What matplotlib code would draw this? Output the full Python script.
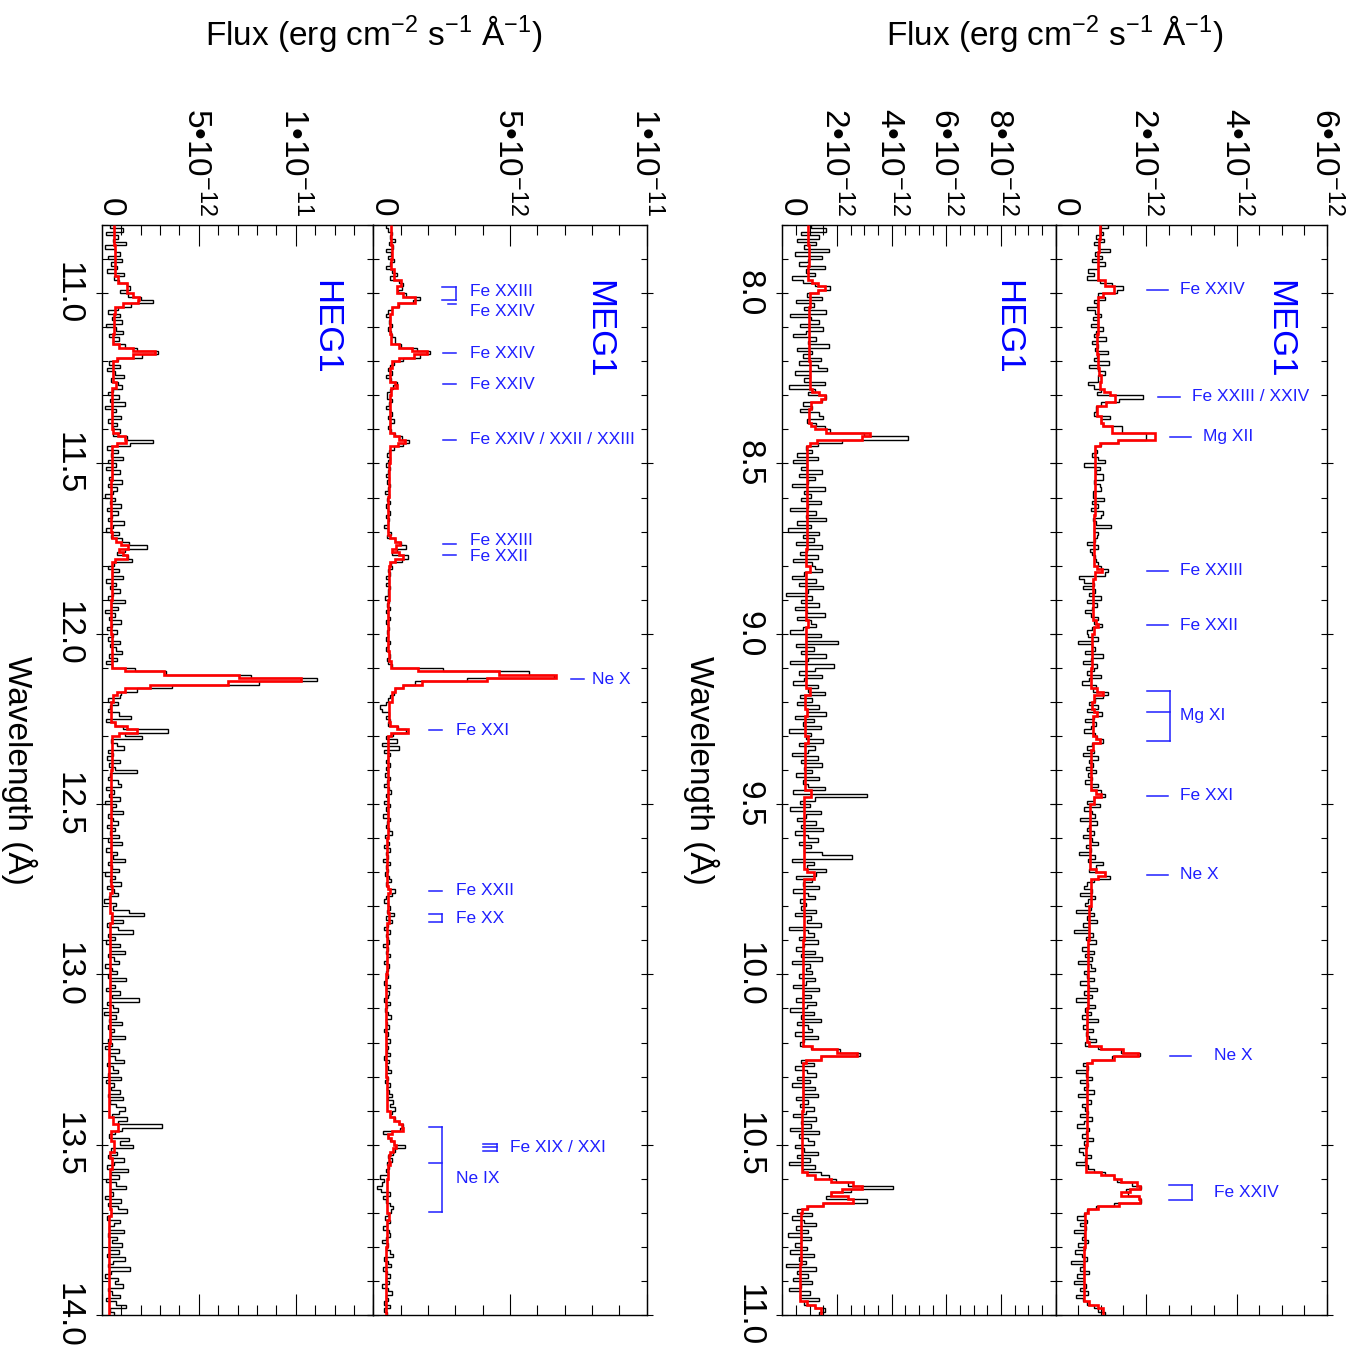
import numpy as np
import matplotlib
matplotlib.use("Agg")
import matplotlib.pyplot as plt
from matplotlib.ticker import MultipleLocator
from matplotlib.transforms import blended_transform_factory

plt.rcParams['font.family'] = ['Liberation Sans', 'DejaVu Sans']
plt.rcParams['mathtext.fontset'] = 'custom'
plt.rcParams['mathtext.rm'] = 'Liberation Sans'
plt.rcParams['mathtext.it'] = 'Liberation Sans:italic'
plt.rcParams['mathtext.default'] = 'regular'
plt.rcParams['axes.linewidth'] = 1.0

# ---------------------------------------------------------------------------
# Spectra: fluxes in units of 1e-12 erg cm^-2 s^-1 A^-1, 0.01 A bins
# ---------------------------------------------------------------------------
BIN = 0.01
UNIT = 1e-12

# MEG1, 7.80 - 11.00 A
meg_short_start = 7.80
meg_short_flux = [
    1.15, 0.98, 1.05, 0.90, 1.08, 0.85, 0.95, 1.20, 0.88, 1.02, 0.80, 1.10, 0.95, 0.72, 0.85, 0.70, 0.98, 1.25, 1.50, 1.35,
    0.95, 1.10, 0.85, 0.92, 0.70, 0.88, 1.00, 0.82, 0.95, 0.78, 1.05, 0.90, 0.85, 1.12, 0.80, 0.95, 0.88, 1.15, 0.92, 0.85,
    1.18, 0.75, 0.95, 1.09, 0.94, 0.94, 0.72, 0.85, 1.00, 0.92, 1.94, 1.40, 1.00, 0.90, 0.90, 0.85, 1.20, 1.00, 1.05, 1.46,
    1.46, 2.00, 2.00, 1.38, 1.00, 0.87, 0.92, 0.80, 0.95, 1.09, 0.64, 0.98, 0.90, 1.05, 1.05, 0.85, 0.98, 1.00, 0.83, 0.83,
    1.08, 0.80, 0.95, 0.78, 1.05, 1.00, 0.82, 0.90, 1.22, 0.85, 0.95, 0.92, 0.88, 0.70, 0.95, 0.76, 0.80, 0.88, 0.90, 0.95,
    1.00, 1.16, 1.10, 0.53, 0.64, 0.85, 0.60, 0.88, 0.75, 1.00, 0.70, 0.92, 0.80, 0.65, 0.78, 0.95, 0.85, 1.02, 0.80, 0.70,
    0.72, 0.95, 0.50, 0.80, 0.88, 0.65, 1.05, 0.78, 0.60, 0.92, 0.85, 0.70, 1.00, 0.75, 0.58, 0.90, 0.82, 1.15, 1.05, 0.88,
    0.75, 0.95, 0.70, 1.02, 0.85, 0.65, 0.90, 0.78, 0.62, 0.88, 0.92, 1.05, 0.80, 0.70, 0.85, 0.60, 0.95, 0.75, 0.82, 0.68,
    0.90, 0.72, 0.80, 0.65, 0.95, 0.78, 1.00, 1.10, 0.85, 0.70, 0.98, 0.62, 0.80, 0.88, 0.55, 0.92, 0.75, 0.70, 0.85, 0.60,
    0.80, 0.95, 0.68, 0.78, 0.52, 0.88, 0.72, 1.05, 0.90, 0.75, 1.10, 1.20, 0.85, 0.70, 0.62, 0.80, 0.55, 0.88, 0.72, 0.65,
    0.78, 0.45, 0.85, 0.70, 0.92, 0.60, 0.75, 0.40, 0.82, 0.68, 0.90, 0.72, 0.58, 0.85, 0.65, 0.80, 0.50, 0.78, 0.88, 0.62,
    0.70, 0.85, 0.55, 0.75, 0.92, 0.62, 0.80, 0.45, 0.72, 0.88, 0.65, 0.78, 0.58, 0.95, 0.70, 0.60, 0.82, 0.68, 0.75, 0.90,
    0.65, 0.95, 1.45, 1.87, 1.25, 0.80, 0.60, 0.72, 0.45, 0.68, 0.80, 0.55, 0.72, 0.62, 0.85, 0.50, 0.70, 0.78, 0.58, 0.66,
    0.72, 0.55, 0.80, 0.62, 0.48, 0.75, 0.68, 0.58, 0.82, 0.64, 0.70, 0.52, 0.60, 0.78, 0.66, 0.45, 0.72, 0.85, 1.10, 1.30,
    1.35, 1.70, 1.90, 1.55, 1.60, 1.85, 1.88, 1.30, 0.90, 0.70, 0.62, 0.48, 0.70, 0.55, 0.68, 0.40, 0.62, 0.58, 0.72, 0.50,
    0.65, 0.42, 0.58, 0.70, 0.35, 0.60, 0.55, 0.75, 0.48, 0.62, 0.40, 0.68, 0.55, 0.72, 0.45, 0.60, 0.70, 0.85, 0.95, 1.10,
]

# HEG1, 7.80 - 11.00 A
heg_short_start = 7.80
heg_short_flux = [
    1.05, 1.60, 0.70, 1.35, 0.55, 1.25, 0.80, 1.70, 0.45, 1.45, 0.95, 0.60, 1.55, 0.85, 1.20, 0.35, 0.75, 1.20, 1.75, 1.30,
    0.90, 1.45, 0.50, 1.15, 0.80, 1.60, 0.30, 1.05, 1.35, 0.65, 1.50, 0.85, 0.40, 1.25, 0.95, 1.70, 0.55, 1.10, 0.75, 1.40,
    0.60, 1.30, 1.65, 0.45, 1.00, 0.80, 1.55, 0.25, 1.20, 0.95, 1.60, 1.45, 0.75, 1.10, 0.65, 1.35, 1.50, 0.90, 1.25, 1.55,
    1.75, 3.00, 4.59, 2.20, 1.30, 0.85, 1.10, 0.55, 1.30, 0.40, 0.90, 0.70, 1.45, 0.60, 1.20, 0.95, 0.35, 1.55, 0.80, 1.05,
    0.70, 1.40, 0.95, 0.30, 1.25, 0.85, 1.60, 0.55, 1.05, 0.20, 1.35, 0.75, 1.15, 0.50, 1.45, 0.90, 0.65, 1.30, 0.40, 1.10,
    1.20, 1.45, 0.80, 0.35, 1.25, 0.60, 1.50, 0.95, 0.15, 1.10, 0.70, 1.35, 0.45, 0.90, 1.55, 0.55, 1.05, 1.25, 0.75, 0.30,
    1.40, 0.85, 2.05, 0.50, 1.15, 0.70, 1.60, 0.95, 0.30, 1.90, 1.20, 0.60, 1.45, 0.80, 0.40, 1.30, 0.95, 1.55, 0.65, 1.10,
    0.55, 1.35, 0.90, 1.60, 0.45, 1.15, 0.75, 1.40, 0.25, 1.05, 0.85, 1.50, 0.60, 1.20, 0.95, 0.35, 1.30, 0.70, 1.45, 0.80,
    1.10, 0.50, 1.35, 0.75, 0.95, 1.55, 0.40, 3.10, 1.20, 0.65, 1.00, 0.30, 1.40, 0.85, 0.55, 1.25, 0.70, 1.50, 0.45, 0.95,
    1.30, 0.60, 1.05, 0.80, 1.45, 2.55, 0.35, 1.15, 0.90, 1.60, 1.25, 0.50, 1.10, 0.75, 1.35, 0.40, 0.95, 1.20, 0.65, 0.85,
    0.70, 1.25, 0.45, 1.05, 0.90, 1.40, 0.25, 0.95, 1.15, 0.60, 1.30, 0.80, 0.50, 1.20, 0.70, 1.45, 0.35, 1.00, 0.85, 1.10,
    0.60, 1.20, 0.85, 0.40, 1.35, 0.75, 1.05, 0.50, 1.25, 0.90, 0.30, 1.15, 0.70, 1.40, 0.55, 0.95, 1.10, 0.45, 1.30, 0.80,
    0.65, 1.05, 2.10, 2.85, 1.40, 0.70, 1.15, 0.45, 0.90, 1.25, 0.55, 1.00, 0.35, 1.20, 0.75, 1.30, 0.50, 0.95, 0.65, 1.15,
    0.85, 0.40, 1.25, 0.70, 1.05, 0.30, 1.35, 0.60, 0.95, 1.15, 0.45, 0.80, 1.30, 0.55, 1.00, 0.25, 1.20, 0.75, 1.40, 1.70,
    1.95, 2.40, 4.05, 2.50, 1.80, 1.60, 3.10, 1.50, 0.95, 0.55, 1.10, 0.35, 0.80, 1.25, 0.50, 0.95, 0.20, 1.05, 0.70, 0.45,
    0.90, 0.30, 1.15, 0.60, 0.85, 0.15, 1.25, 0.55, 0.95, 0.40, 1.10, 0.70, 0.25, 1.00, 0.65, 1.35, 0.80, 1.20, 1.55, 1.35,
]

# MEG1, 10.80 - 14.00 A
meg_long_start = 10.80
meg_long_flux = [
    0.45, 0.55, 0.70, 0.62, 0.80, 0.58, 0.72, 0.45, 0.65, 0.52, 0.75, 0.60, 0.48, 0.70, 0.85, 0.62, 0.95, 1.08, 1.06, 0.90,
    1.20, 1.70, 1.45, 0.95, 0.70, 0.55, 0.45, 0.62, 0.58, 0.70, 0.55, 0.65, 0.68, 0.80, 0.78, 1.00, 1.60, 2.07, 1.70, 1.10,
    0.75, 0.62, 0.55, 0.70, 0.48, 0.65, 0.88, 0.72, 0.60, 0.50, 0.50, 0.68, 0.58, 0.45, 0.62, 0.70, 0.55, 0.75, 0.60, 0.52,
    0.65, 0.80, 1.05, 1.30, 1.10, 0.75, 0.58, 0.50, 0.62, 0.55, 0.48, 0.60, 0.52, 0.45, 0.58, 0.50, 0.62, 0.55, 0.42, 0.58,
    0.50, 0.60, 0.45, 0.55, 0.62, 0.48, 0.58, 0.52, 0.40, 0.55, 0.65, 0.50, 0.78, 1.00, 1.20, 0.85, 0.70, 1.27, 1.05, 0.65,
    0.70, 0.55, 0.62, 0.48, 0.58, 0.45, 0.60, 0.52, 0.55, 0.42, 0.58, 0.50, 0.62, 0.47, 0.55, 0.60, 0.45, 0.52, 0.58, 0.50,
    0.55, 0.48, 0.60, 0.52, 0.45, 0.58, 0.62, 0.50, 0.55, 0.68, 2.56, 5.70, 6.60, 3.41, 1.52, 1.10, 0.80, 0.75, 0.60, 0.52,
    0.48, 0.25, 0.30, 0.58, 0.45, 0.62, 0.55, 0.90, 1.20, 0.72, 0.45, 0.85, 0.30, 0.95, 0.40, 0.60, 0.52, 0.45, 0.62, 0.48,
    0.55, 0.42, 0.60, 0.50, 0.38, 0.58, 0.65, 0.45, 0.52, 0.40, 0.60, 0.48, 0.55, 0.35, 0.62, 0.50, 0.45, 0.58, 0.70, 0.42,
    0.50, 0.58, 0.40, 0.62, 0.45, 0.55, 0.35, 0.60, 0.48, 0.52, 0.42, 0.58, 0.65, 0.45, 0.55, 0.80, 0.70, 0.45, 0.38, 0.55,
    0.62, 0.50, 0.75, 0.45, 0.68, 0.55, 0.40, 0.60, 0.48, 0.52, 0.58, 0.35, 0.55, 0.45, 0.62, 0.50, 0.40, 0.58, 0.52, 0.45,
    0.55, 0.48, 0.40, 0.62, 0.45, 0.58, 0.52, 0.38, 0.60, 0.50, 0.42, 0.55, 0.65, 0.45, 0.50, 0.58, 0.40, 0.52, 0.48, 0.60,
    0.45, 0.55, 0.50, 0.62, 0.40, 0.58, 0.48, 0.52, 0.65, 0.45, 0.55, 0.42, 0.60, 0.50, 0.58, 0.68, 0.55, 0.72, 0.62, 0.80,
    0.70, 0.62, 0.80, 0.95, 1.10, 0.98, 0.37, 0.55, 0.62, 0.75, 1.15, 0.80, 0.72, 0.55, 0.70, 0.50, 0.58, 0.45, 0.52, 0.25,
    0.40, 0.30, 0.15, 0.28, 0.62, 0.35, 0.48, 0.60, 0.72, 0.65, 0.55, 0.42, 0.60, 0.50, 0.35, 0.58, 0.62, 0.45, 0.30, 0.55,
    0.48, 0.60, 0.72, 0.40, 0.55, 0.65, 0.35, 0.50, 0.62, 0.45, 0.58, 0.30, 0.52, 0.68, 0.45, 0.55, 0.40, 0.60, 0.38, 0.50,
]

# HEG1, 10.80 - 14.00 A
heg_long_start = 10.80
heg_long_flux = [
    0.45, 1.10, 0.20, 0.85, 0.60, 1.25, 0.15, 0.70, 0.95, 0.35, 1.05, 0.50, 0.80, 0.25, 1.15, 0.65, 0.90, 1.30, 1.45, 0.95,
    1.35, 2.00, 2.65, 1.50, 0.85, 0.30, 0.95, 0.55, 1.05, 0.20, 0.75, 1.10, 0.40, 0.90, 0.60, 1.20, 1.80, 2.90, 2.10, 0.85,
    0.40, 0.95, 0.25, 0.70, 1.15, 0.50, 0.85, 1.05, 0.60, 0.30, 0.90, 0.45, 1.20, 0.15, 0.75, 0.55, 1.00, 0.35, 0.80, 0.60,
    0.95, 0.60, 1.30, 2.66, 1.45, 0.25, 0.85, 0.50, 1.10, 0.35, 0.75, 0.20, 0.95, 0.55, 0.40, 1.05, 0.30, 0.80, 0.60, 0.15,
    0.70, 0.45, 1.00, 0.25, 0.85, 0.55, 0.35, 1.15, 0.60, 0.20, 0.90, 0.50, 1.05, 1.40, 2.35, 1.20, 0.80, 1.35, 1.55, 0.65,
    0.35, 0.90, 0.55, 1.10, 0.20, 0.75, 0.45, 0.95, 0.60, 0.30, 1.20, 0.50, 0.85, 0.15, 0.70, 0.40, 1.00, 0.55, 0.25, 0.80,
    0.60, 0.30, 0.95, 0.45, 0.75, 1.05, 0.40, 0.80, 0.20, 0.55, 1.70, 3.30, 7.70, 11.10, 8.10, 3.60, 1.80, 1.00, 0.95, 0.35,
    0.85, 0.45, 0.30, 0.90, 1.50, 0.20, 0.70, 1.10, 3.43, 1.20, 2.07, 0.50, 0.80, 1.15, 0.35, 0.60, 0.25, 0.95, 0.40, 0.70,
    1.80, 0.45, 0.30, 0.85, 1.00, 0.20, 0.65, 0.40, 0.95, 0.15, 0.75, 0.55, 1.10, 0.30, 0.60, 0.85, 0.25, 0.70, 0.45, 0.90,
    0.35, 1.05, 0.50, 0.20, 0.80, 0.60, 1.20, 0.30, 0.55, 0.90, 0.15, 0.70, 0.45, 1.00, 0.25, 0.65, 0.85, 0.40, 0.10, 0.75,
    0.60, 1.40, 2.20, 0.50, 1.10, 0.25, 0.85, 1.60, 0.35, 0.70, 0.20, 0.95, 0.45, 1.20, 0.30, 0.65, 0.90, 0.15, 0.55, 0.80,
    0.30, 1.25, 0.45, 0.70, 0.20, 0.95, 0.55, 1.90, 0.25, 0.60, 0.85, 0.10, 0.75, 0.40, 1.05, 0.30, 0.65, 0.50, 1.20, 0.35,
    0.55, 0.15, 0.90, 0.40, 0.70, 1.15, 0.25, 0.60, 0.85, 0.35, 1.00, 0.20, 0.65, 0.50, 0.95, 0.30, 1.10, 0.45, 0.75, 1.20,
    0.90, 0.55, 1.30, 0.85, 3.10, 1.05, 0.70, 0.40, 1.40, 0.95, 1.60, 0.50, 0.80, 0.30, 1.15, 0.65, 0.25, 1.35, 0.50, 0.90,
    0.20, 0.75, 1.25, 0.45, 0.60, 0.15, 1.00, 0.35, 0.85, 1.30, 0.50, 0.25, 0.95, 0.65, 0.40, 1.15, 0.30, 0.80, 0.55, 1.05,
    0.40, 0.90, 0.25, 1.20, 0.60, 0.35, 1.45, 0.50, 0.15, 0.85, 0.70, 1.10, 0.30, 0.55, 0.95, 0.20, 0.75, 1.25, 0.45, 0.65,
]

# Best-fit models: (step start wavelength, flux) pairs, each step lasting to the next start
meg_short_model = [
    (7.80, 0.98), (7.84, 0.96), (7.88, 0.95), (7.92, 0.93), (7.96, 1.10), (7.98, 1.30), (8.00, 1.05),
    (8.01, 0.95), (8.06, 0.93), (8.12, 0.91), (8.18, 0.93), (8.22, 0.96), (8.24, 1.00), (8.26, 0.98),
    (8.28, 1.08), (8.29, 1.20), (8.30, 1.31), (8.32, 1.12), (8.33, 0.92), (8.36, 1.00), (8.38, 1.05),
    (8.39, 1.24), (8.41, 2.20), (8.43, 1.38), (8.44, 0.98), (8.45, 0.88), (8.55, 0.87), (8.65, 0.85),
    (8.75, 0.84), (8.80, 0.92), (8.81, 1.02), (8.82, 0.88), (8.84, 0.82), (8.96, 0.90), (8.97, 0.95),
    (8.98, 0.84), (9.00, 0.80), (9.10, 0.78), (9.16, 0.92), (9.17, 1.04), (9.18, 0.85), (9.20, 0.80),
    (9.22, 0.86), (9.23, 0.92), (9.24, 0.82), (9.30, 0.90), (9.31, 0.98), (9.32, 0.82), (9.34, 0.78),
    (9.46, 0.90), (9.47, 1.00), (9.48, 0.84), (9.50, 0.77), (9.60, 0.76), (9.69, 0.90), (9.70, 1.10),
    (9.71, 0.95), (9.72, 0.78), (9.80, 0.73), (9.90, 0.72), (10.00, 0.71), (10.10, 0.70), (10.20, 0.75),
    (10.21, 1.00), (10.22, 1.50), (10.23, 1.82), (10.24, 1.30), (10.25, 0.80), (10.26, 0.70), (10.40, 0.69),
    (10.50, 0.68), (10.58, 1.00), (10.59, 1.30), (10.60, 1.45), (10.61, 1.80), (10.62, 1.87), (10.63, 1.65),
    (10.64, 1.45), (10.65, 1.85), (10.66, 1.87), (10.67, 1.40), (10.68, 0.95), (10.69, 0.72), (10.70, 0.65),
    (10.80, 0.63), (10.90, 0.62), (10.96, 0.75), (10.97, 0.95), (10.98, 1.04),
]

heg_short_model = [
    (7.80, 0.95), (7.86, 0.97), (7.92, 0.95), (7.96, 1.10), (7.97, 1.30), (7.98, 1.56), (7.99, 1.30),
    (8.00, 1.00), (8.04, 0.97), (8.12, 0.98), (8.20, 1.00), (8.28, 1.10), (8.29, 1.35), (8.30, 1.56),
    (8.31, 1.40), (8.32, 1.05), (8.34, 0.98), (8.38, 1.05), (8.39, 1.20), (8.40, 1.60), (8.41, 3.21),
    (8.42, 2.90), (8.43, 1.26), (8.44, 1.00), (8.45, 0.92), (8.60, 0.90), (8.75, 0.88), (8.80, 1.00),
    (8.82, 0.86), (8.96, 0.95), (8.98, 0.85), (9.16, 1.00), (9.18, 0.84), (9.22, 0.92), (9.24, 0.83),
    (9.30, 0.95), (9.32, 0.82), (9.46, 1.05), (9.48, 0.80), (9.69, 0.90), (9.70, 1.15), (9.72, 0.78),
    (9.90, 0.76), (10.10, 0.74), (10.21, 1.10), (10.22, 2.00), (10.23, 2.73), (10.24, 1.40), (10.25, 0.85),
    (10.26, 0.74), (10.40, 0.72), (10.58, 0.90), (10.59, 1.20), (10.60, 1.80), (10.61, 2.60), (10.62, 2.90),
    (10.63, 2.20), (10.64, 1.80), (10.65, 2.40), (10.66, 2.60), (10.67, 1.50), (10.68, 0.90), (10.69, 0.72),
    (10.70, 0.68), (10.85, 0.66), (10.96, 0.90), (10.97, 1.20), (10.98, 1.40),
]

meg_long_model = [
    (10.80, 0.66), (10.86, 0.70), (10.90, 0.66), (10.93, 0.75), (10.96, 1.00), (10.98, 0.87), (11.00, 1.10),
    (11.01, 1.52), (11.03, 0.90), (11.04, 0.67), (11.06, 0.60), (11.12, 0.64), (11.15, 0.95), (11.16, 1.40),
    (11.17, 1.95), (11.18, 1.50), (11.19, 0.95), (11.20, 0.70), (11.22, 0.62), (11.26, 0.80), (11.27, 0.87),
    (11.28, 0.64), (11.30, 0.60), (11.41, 0.75), (11.42, 0.95), (11.43, 1.15), (11.44, 0.90), (11.45, 0.62),
    (11.50, 0.56), (11.60, 0.54), (11.71, 0.62), (11.72, 0.80), (11.73, 0.98), (11.74, 0.82), (11.75, 0.70),
    (11.76, 0.95), (11.77, 1.10), (11.78, 0.80), (11.79, 0.62), (11.80, 0.56), (11.90, 0.55), (12.05, 0.58),
    (12.08, 0.65), (12.10, 1.65), (12.11, 4.60), (12.12, 6.70), (12.13, 4.15), (12.14, 1.77), (12.15, 1.10),
    (12.16, 0.80), (12.17, 0.68), (12.20, 0.58), (12.26, 0.62), (12.27, 0.85), (12.28, 1.28), (12.29, 0.65),
    (12.30, 0.55), (12.40, 0.52), (12.60, 0.50), (12.74, 0.55), (12.75, 0.62), (12.76, 0.52), (12.82, 0.56),
    (12.85, 0.50), (13.00, 0.48), (13.20, 0.47), (13.30, 0.50), (13.40, 0.60), (13.42, 0.75), (13.43, 0.95),
    (13.44, 1.04), (13.45, 1.10), (13.46, 0.67), (13.47, 0.55), (13.48, 0.65), (13.49, 0.77), (13.50, 0.83),
    (13.51, 0.72), (13.52, 0.60), (13.53, 0.56), (13.55, 0.62), (13.56, 0.55), (13.60, 0.50), (13.70, 0.56),
    (13.72, 0.50), (13.80, 0.48), (13.90, 0.46),
]

heg_long_model = [
    (10.80, 0.62), (10.86, 0.70), (10.92, 0.66), (10.95, 0.85), (10.97, 1.29), (11.00, 1.60), (11.01, 1.90),
    (11.02, 1.85), (11.03, 1.10), (11.04, 0.68), (11.06, 0.62), (11.12, 0.60), (11.15, 0.90), (11.16, 1.60),
    (11.17, 2.77), (11.18, 1.60), (11.19, 0.80), (11.20, 0.58), (11.26, 0.72), (11.28, 0.55), (11.40, 0.60),
    (11.41, 0.85), (11.42, 1.20), (11.43, 1.25), (11.44, 0.80), (11.45, 0.55), (11.55, 0.50), (11.70, 0.52),
    (11.72, 0.75), (11.73, 1.00), (11.74, 1.37), (11.75, 0.90), (11.76, 1.10), (11.77, 1.30), (11.78, 0.70),
    (11.79, 0.52), (11.90, 0.48), (12.00, 0.52), (12.08, 0.55), (12.10, 1.20), (12.11, 3.20), (12.12, 7.07),
    (12.13, 10.26), (12.14, 6.50), (12.15, 2.50), (12.16, 1.20), (12.17, 0.80), (12.18, 0.60), (12.20, 0.50),
    (12.26, 0.70), (12.27, 1.30), (12.28, 1.80), (12.29, 0.90), (12.30, 0.55), (12.40, 0.48), (12.60, 0.46),
    (12.74, 0.55), (12.76, 0.45), (12.82, 0.52), (12.85, 0.44), (13.00, 0.42), (13.20, 0.40), (13.42, 0.60),
    (13.44, 0.85), (13.46, 0.50), (13.49, 0.62), (13.52, 0.45), (13.54, 0.55), (13.57, 0.42), (13.69, 0.50),
    (13.71, 0.40), (13.85, 0.38),
]

# Line identifications: (label, line wavelengths, label wavelength)
meg_short_ids = [
    ("Fe XXIV", [7.99], 7.99),
    ("Fe XXIII / XXIV", [8.304], 8.304),
    ("Mg XII", [8.421], 8.421),
    ("Fe XXIII", [8.815], 8.815),
    ("Fe XXII", [8.975], 8.975),
    ("Mg XI", [9.169, 9.231, 9.314], 9.239),
    ("Fe XXI", [9.475], 9.475),
    ("Ne X", [9.708], 9.708),
    ("Ne X", [10.239], 10.239),
    ("Fe XXIV", [10.619, 10.663], 10.641),
]
meg_long_ids = [
    ("Fe XXIII", [10.981, 11.019], 10.994),
    ("Fe XXIV", [11.031], 11.055),
    ("Fe XXIV", [11.176], 11.176),
    ("Fe XXIV", [11.268], 11.268),
    ("Fe XXIV / XXII / XXIII", [11.430], 11.430),
    ("Fe XXIII", [11.736], 11.726),
    ("Fe XXII", [11.770], 11.774),
    ("Ne X", [12.134], 12.134),
    ("Fe XXI", [12.284], 12.284),
    ("Fe XXII", [12.754], 12.754),
    ("Fe XX", [12.824, 12.846], 12.835),
    ("Fe XIX / XXI", [13.497, 13.507, 13.518], 13.507),
    ("Ne IX", [13.447, 13.553, 13.699], 13.598),
]
# horizontal placement of each identification (axes fraction: line start, line end, text start)
meg_short_id_x = [
    (0.336, 0.413, 0.458), (0.376, 0.458, 0.502), (0.421, 0.498, 0.542), (0.336, 0.413, 0.458),
    (0.336, 0.413, 0.458), (0.336, 0.421, 0.458), (0.336, 0.413, 0.458), (0.336, 0.413, 0.458),
    (0.421, 0.498, 0.583), (0.417, 0.502, 0.583),
]
meg_long_id_x = [
    (0.250, 0.302, 0.354), (0.275, 0.302, 0.354), (0.255, 0.302, 0.354), (0.255, 0.302, 0.354),
    (0.255, 0.302, 0.354), (0.255, 0.302, 0.354), (0.255, 0.302, 0.354), (0.723, 0.770, 0.800),
    (0.204, 0.252, 0.302), (0.204, 0.252, 0.302), (0.204, 0.252, 0.302), (0.401, 0.452, 0.500),
    (0.204, 0.252, 0.302),
]

W, H = 1346, 1366
TOP, BOTTOM = 225, 1315
BLUE = '#1f1fff'
FS = 24

fig = plt.figure(figsize=(W / 100, H / 100), dpi=100)


def panel_axes(x0, x1):
    return fig.add_axes([x0 / W, 1 - BOTTOM / H, (x1 - x0) / W, (BOTTOM - TOP) / H])


def flux_label(v):
    if v == 0:
        return "0"
    e = int(np.floor(np.log10(v) + 1e-9))
    m = v / 10.0 ** e
    return f"{m:g}•10$^{{{e}}}$"


def draw_panel(ax, start, flux, model, stop, xmax, major, minor, flux_ticks, name, wl_labels):
    edges = start + BIN * np.arange(len(flux) + 1)
    ax.stairs(np.asarray(flux) * UNIT, edges, orientation='horizontal', baseline=None,
              color='black', lw=1.0, zorder=2)
    mw = np.array([p[0] for p in model] + [stop])
    mf = np.array([p[1] for p in model]) * UNIT
    ax.stairs(mf, mw, orientation='horizontal', baseline=None, color='red', lw=1.9, zorder=3)

    ax.set_xlim(0, xmax)
    ax.set_ylim(stop, start)
    ax.xaxis.set_major_locator(MultipleLocator(major))
    ax.xaxis.set_minor_locator(MultipleLocator(minor))
    ax.yaxis.set_major_locator(MultipleLocator(0.5))
    ax.yaxis.set_minor_locator(MultipleLocator(0.1))
    ax.tick_params(axis='x', which='major', direction='in', length=15, width=0.8,
                   top=True, bottom=True, labelbottom=False, labeltop=False)
    ax.tick_params(axis='x', which='minor', direction='in', length=7.5, width=0.8,
                   top=True, bottom=True)
    ax.tick_params(axis='y', which='major', direction='inout', length=8, width=0.8,
                   left=True, right=True, labelleft=False, labelright=False)
    ax.tick_params(axis='y', which='minor', direction='in', length=4, width=0.8,
                   left=True, right=True)

    trx = blended_transform_factory(ax.transData, ax.transAxes)
    for v in flux_ticks:
        dx = 0 if v == 0 else -12
        ax.annotate(flux_label(v), xy=(v, 1), xycoords=trx, xytext=(dx, 9),
                    textcoords='offset pixels', rotation=270, rotation_mode='anchor',
                    ha='right', va='baseline', fontsize=FS, annotation_clip=False)

    if wl_labels:
        trw = blended_transform_factory(ax.transAxes, ax.transData)
        for v in np.arange(start + 0.2, stop + 0.01, 0.5):
            ax.annotate(f"{v:.1f}", xy=(0, v), xycoords=trw, xytext=(-42, 0),
                        textcoords='offset pixels', rotation=270, rotation_mode='anchor',
                        ha='center', va='baseline', fontsize=FS, annotation_clip=False)

    ax.text(0.79, 0.9495, name, transform=ax.transAxes, rotation=270, rotation_mode='anchor',
            ha='left', va='baseline', fontsize=25, color='#0000ff')


def draw_ids(ax, ids, xs):
    tr = blended_transform_factory(ax.transAxes, ax.transData)
    for (label, waves, text_wave), (xa, xb, xt) in zip(ids, xs):
        for w in waves:
            ax.plot([xa, xb], [w, w], transform=tr, color=BLUE, lw=1.1, zorder=4)
        if len(waves) > 1:
            ax.plot([xb, xb], [min(waves), max(waves)], transform=tr, color=BLUE, lw=1.1, zorder=4)
        ax.text(xt, text_wave, label, transform=tr, ha='left', va='center',
                fontsize=12.5, color=BLUE, zorder=4)


ax_heg_l = panel_axes(101.7, 373.3)
ax_meg_l = panel_axes(373.3, 646.7)
ax_heg_r = panel_axes(782.3, 1055.5)
ax_meg_r = panel_axes(1055.5, 1327)

draw_panel(ax_heg_l, heg_long_start, heg_long_flux, heg_long_model, 14.0,
           1.4e-11, 5e-12, 1e-12, [0, 5e-12, 1e-11], "HEG1", True)
draw_panel(ax_meg_l, meg_long_start, meg_long_flux, meg_long_model, 14.0,
           1e-11, 5e-12, 1e-12, [0, 5e-12, 1e-11], "MEG1", False)
draw_panel(ax_heg_r, heg_short_start, heg_short_flux, heg_short_model, 11.0,
           1e-11, 2e-12, 5e-13, [0, 2e-12, 4e-12, 6e-12, 8e-12], "HEG1", True)
draw_panel(ax_meg_r, meg_short_start, meg_short_flux, meg_short_model, 11.0,
           6e-12, 2e-12, 5e-13, [0, 2e-12, 4e-12, 6e-12], "MEG1", False)

draw_ids(ax_meg_r, meg_short_ids, meg_short_id_x)
draw_ids(ax_meg_l, meg_long_ids, meg_long_id_x)

flux_title = r"Flux (erg cm$^{-2}$ s$^{-1}$ Å$^{-1}$)"
for xc in (374, 1055):
    fig.text(xc / W, 1 - 45 / H, flux_title, ha='center', va='baseline', fontsize=FS)
for xb in (8, 690):
    fig.text(xb / W, 1 - 770 / H, "Wavelength (Å)", rotation=270, rotation_mode='anchor',
             ha='center', va='baseline', fontsize=FS)

fig.savefig("out.png", dpi=100)
